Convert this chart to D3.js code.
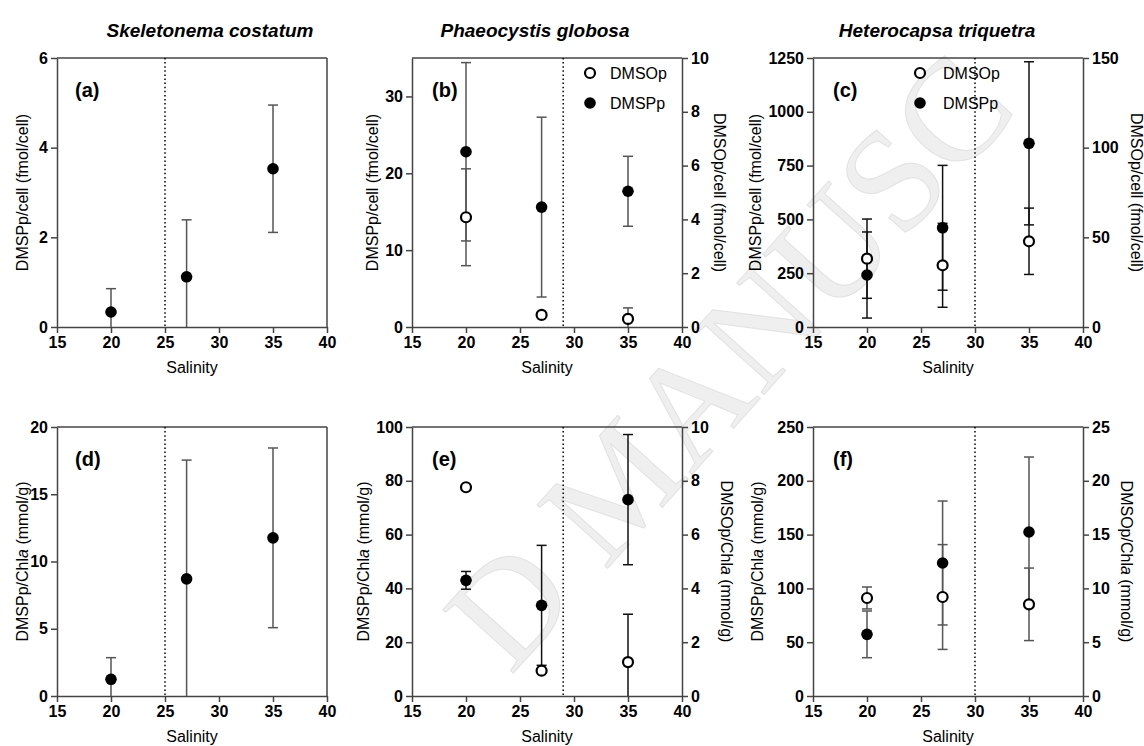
<!DOCTYPE html>
<meta charset="utf-8">
<script src="https://d3js.org/d3.v7.min.js"></script>
<style>
  body { margin: 0; background: #fff; }
  text { font-family: Arial, "Liberation Sans", sans-serif; }
</style>
<div id="chart"></div>
<script>
// salinity treatments (x values)
var salinity = [20, 27, 35];
var xTicks = [15, 20, 25, 30, 35, 40];

// species (column titles)
var species = ["Skeletonema costatum", "Phaeocystis globosa", "Heterocapsa triquetra"];

// (a) S. costatum, DMSPp per cell (fmol/cell)
var aDmspp = [0.335, 1.12, 3.53], aDmsppSd = [0.52, 1.27, 1.42];
// (b) P. globosa, per cell
var bDmspp = [22.8, 15.6, 17.66], bDmsppSd = [11.6, 11.7, 4.55];
var bDmsop = [4.08, 0.45, 0.30], bDmsopSd = [1.8, 0, 0.41];
// (c) H. triquetra, per cell
var cDmspp = [241.6, 461, 853.6], cDmsppSd = [200, 290, 379];
var cDmsop = [38.1, 34.4, 47.8], cDmsopSd = [22.1, 23.4, 18.5];
// (d) S. costatum, per Chl a (mmol/g)
var dDmspp = [1.24, 8.71, 11.76], dDmsppSd = [1.61, 8.83, 6.68];
// (e) P. globosa, per Chl a
var eDmspp = [43.0, 33.7, 73.0], eDmsppSd = [3.3, 22.3, 24.2];
var eDmsop = [7.76, 0.94, 1.26], eDmsopSd = [0, 0, 1.78];
// (f) H. triquetra, per Chl a
var fDmspp = [57.3, 123.6, 152.4], fDmsppSd = [21.7, 57.6, 69.7];
var fDmsop = [9.11, 9.2, 8.52], fDmsopSd = [1.02, 4.87, 3.37];

// y axis domains and ticks
var leftMax = [6, 35, 1250, 20, 100, 250];
var leftTicks = [[0, 2, 4, 6], [0, 10, 20, 30], [0, 250, 500, 750, 1000, 1250],
                 [0, 5, 10, 15, 20], [0, 20, 40, 60, 80, 100], [0, 50, 100, 150, 200, 250]];
var rightMax = [null, 10, 150, null, 10, 25];
var rightTicks = [null, [0, 2, 4, 6, 8, 10], [0, 50, 100, 150], null,
                  [0, 2, 4, 6, 8, 10], [0, 5, 10, 15, 20, 25]];
// salinity threshold (dotted line)
var threshold = [25, 29, 30, 25, 29, 30];

var panelLetters = ["(a)", "(b)", "(c)", "(d)", "(e)", "(f)"];
var legendNames = ["DMSOp", "DMSPp"];

var filled = [[aDmspp, aDmsppSd], [bDmspp, bDmsppSd], [cDmspp, cDmsppSd],
              [dDmspp, dDmsppSd], [eDmspp, eDmsppSd], [fDmspp, fDmsppSd]];
var open = [null, [bDmsop, bDmsopSd], [cDmsop, cDmsopSd],
            null, [eDmsop, eDmsopSd], [fDmsop, fDmsopSd]];

// layout
var W = 1144, H = 746;
var colX = [57, 412, 813], rowY = [58, 427];
var pw = 270, ph = 269;
var leftLabelX = [22, 372, 755, 22, 363, 757];
var rightLabelX = [null, 720, 1137, null, 727, 1127];
var barColor = ["#555", "#555", "#111", "#555", "#111", "#555"];

var svg = d3.select("#chart").append("svg")
  .attr("width", W).attr("height", H);

// faint watermark, letter by letter; only the letters that sit inside the frame
var wmText = "ACCEPTED MANUSCRIPT", wmShow = [7, 9, 10, 11, 12, 13, 14];
var wmSize = 145, wmAngle = -48, wmCx = 617, wmCy = 482;
var wm = svg.append("g");
var probe = wm.append("text")
  .style("font-family", "'Liberation Serif', 'DejaVu Serif', serif")
  .style("font-size", wmSize + "px");
var widths = wmText.split("").map(function(ch) {
  probe.text(ch == " " ? "\u00a0" : ch);
  return probe.node().getComputedTextLength();
});
probe.remove();
var total = d3.sum(widths), acc = -total / 2;
var ca = Math.cos(wmAngle * Math.PI / 180), sa = Math.sin(wmAngle * Math.PI / 180);
wmText.split("").forEach(function(ch, i) {
  var mid = acc + widths[i] / 2;
  acc += widths[i];
  if (wmShow.indexOf(i) < 0) return;
  wm.append("text")
    .attr("transform", "translate(" + (wmCx + mid * ca) + "," + (wmCy + mid * sa) + ") rotate(" + wmAngle + ")")
    .attr("text-anchor", "middle").attr("dy", "0.35em")
    .style("font-family", "'Liberation Serif', 'DejaVu Serif', serif")
    .style("font-size", wmSize + "px")
    .attr("fill", "#efefef").attr("stroke", "#e2e2e2").attr("stroke-width", 1)
    .text(ch);
});

// column titles
species.forEach(function(s, i) {
  svg.append("text")
    .attr("x", [210, 535, 937][i]).attr("y", 37)
    .attr("text-anchor", "middle")
    .style("font-size", "19px").style("font-weight", "bold").style("font-style", "italic")
    .text(s);
});

function yLabel(g, x, y, rot, kind, right) {
  var t = g.append("text")
    .attr("transform", "translate(" + x + "," + y + ") rotate(" + rot + ")")
    .attr("text-anchor", "middle").attr("dy", "0.35em")
    .style("font-size", "16px");
  var comp = right ? "DMSOp" : "DMSPp";
  if (kind == "cell") {
    t.text(comp + "/cell (fmol/cell)");
  } else {
    t.append("tspan").text(comp + "/Chl");
    t.append("tspan").style("font-style", "italic").text("a");
    t.append("tspan").text(" (mmol/g)");
  }
}

function styleAxis(g) {
  g.selectAll("path, line").attr("stroke", "#444").attr("stroke-width", 1.5);
  g.selectAll("text").style("font-size", "16px").style("font-weight", "bold")
    .attr("fill", "#000");
}

for (var p = 0; p < 6; p++) {
  var col = p % 3, row = Math.floor(p / 3);
  var x0 = colX[col], y0 = rowY[row];
  var g = svg.append("g");

  var x = d3.scaleLinear().domain([15, 40]).range([x0, x0 + pw]);
  var yL = d3.scaleLinear().domain([0, leftMax[p]]).range([y0 + ph, y0]);
  var yR = rightMax[p] ? d3.scaleLinear().domain([0, rightMax[p]]).range([y0 + ph, y0]) : null;

  // frame
  g.append("line").attr("x1", x0).attr("x2", x0 + pw).attr("y1", y0).attr("y2", y0)
    .attr("stroke", "#444").attr("stroke-width", 1.5);
  if (!yR) {
    g.append("line").attr("x1", x0 + pw).attr("x2", x0 + pw).attr("y1", y0).attr("y2", y0 + ph)
      .attr("stroke", "#444").attr("stroke-width", 1.5);
  }

  // threshold line
  g.append("line")
    .attr("x1", x(threshold[p])).attr("x2", x(threshold[p]))
    .attr("y1", y0).attr("y2", y0 + ph)
    .attr("stroke", "#000").attr("stroke-width", 1.5)
    .attr("stroke-dasharray", "1.5 2.6");

  // axes
  g.append("g").attr("transform", "translate(0," + (y0 + ph) + ")")
    .call(d3.axisBottom(x).tickValues(xTicks).tickFormat(d3.format("d"))
      .tickSize(6).tickSizeOuter(0).tickPadding(4))
    .call(styleAxis);
  g.append("g").attr("transform", "translate(" + x0 + ",0)")
    .call(d3.axisLeft(yL).tickValues(leftTicks[p]).tickFormat(d3.format("d"))
      .tickSize(6).tickSizeOuter(0).tickPadding(3))
    .call(styleAxis);
  if (yR) {
    g.append("g").attr("transform", "translate(" + (x0 + pw) + ",0)")
      .call(d3.axisRight(yR).tickValues(rightTicks[p]).tickFormat(d3.format("d"))
        .tickSize(6).tickSizeOuter(0).tickPadding(3))
      .call(styleAxis);
  }

  // axis titles
  g.append("text").attr("x", x0 + pw / 2).attr("y", y0 + ph + 46)
    .attr("text-anchor", "middle").style("font-size", "16px").text("Salinity");
  var kind = row == 0 ? "cell" : "chl";
  yLabel(g, leftLabelX[p], y0 + ph / 2, -90, kind, false);
  if (yR) yLabel(g, rightLabelX[p], y0 + ph / 2, 90, kind, true);

  // panel letter
  g.append("text").attr("x", x0 + [18, 20, 20][col]).attr("y", y0 + 39)
    .style("font-size", "20px").style("font-weight", "bold").text(panelLetters[p]);

  // series: [values, sd, scale, isOpen]
  var series = [[filled[p][0], filled[p][1], yL, false]];
  if (open[p]) series.push([open[p][0], open[p][1], yR, true]);

  // error bars
  series.forEach(function(s) {
    var vals = s[0], sd = s[1], ys = s[2];
    salinity.forEach(function(sal, i) {
      if (!sd[i]) return;
      var hi = vals[i] + sd[i], lo = vals[i] - sd[i];
      var cx = x(sal);
      g.append("line").attr("x1", cx).attr("x2", cx)
        .attr("y1", ys(Math.max(lo, 0))).attr("y2", ys(hi))
        .attr("stroke", barColor[p]).attr("stroke-width", 1.5);
      g.append("line").attr("x1", cx - 5).attr("x2", cx + 5)
        .attr("y1", ys(hi)).attr("y2", ys(hi))
        .attr("stroke", barColor[p]).attr("stroke-width", 1.5);
      if (lo > 0) {
        g.append("line").attr("x1", cx - 5).attr("x2", cx + 5)
          .attr("y1", ys(lo)).attr("y2", ys(lo))
          .attr("stroke", barColor[p]).attr("stroke-width", 1.5);
      }
    });
  });

  // points
  series.forEach(function(s) {
    var vals = s[0], ys = s[2], isOpen = s[3];
    g.selectAll(null).data(salinity).enter().append("circle")
      .attr("cx", function(d) { return x(d); })
      .attr("cy", function(d, i) { return ys(vals[i]); })
      .attr("r", isOpen ? 5 : 5.8)
      .attr("fill", isOpen ? "#fff" : "#000")
      .attr("stroke", "#000").attr("stroke-width", isOpen ? 2.2 : 0);
  });

  // legend (b, c)
  if (p == 1 || p == 2) {
    var lx = p == 1 ? 590 : 920, tx = p == 1 ? 610 : 943;
    legendNames.forEach(function(n, k) {
      var ly = 73 + k * 30;
      g.append("circle").attr("cx", lx).attr("cy", ly)
        .attr("r", k == 0 ? 5 : 5.8)
        .attr("fill", k == 0 ? "#fff" : "#000")
        .attr("stroke", "#000").attr("stroke-width", k == 0 ? 2.2 : 0);
      g.append("text").attr("x", tx).attr("y", ly).attr("dy", "0.35em")
        .style("font-size", "16px").text(n);
    });
  }
}
</script>
